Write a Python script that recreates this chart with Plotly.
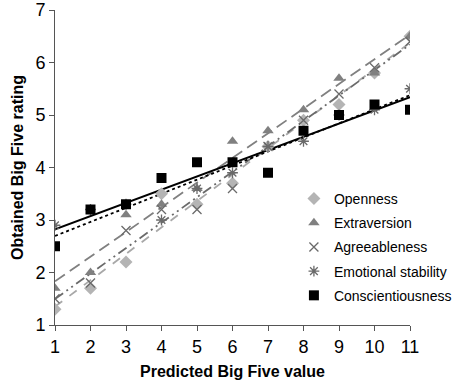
import numpy as np
import plotly.graph_objects as go

x_vals = [1, 2, 3, 4, 5, 6, 7, 8, 9, 10, 11]
openness = [1.3, 1.7, 2.2, 3.5, 3.3, 3.7, 4.4, 4.9, 5.2, 5.8, 6.5]
extraversion = [1.7, 2.0, 3.1, 3.3, 3.6, 4.5, 4.7, 5.1, 5.7, 5.8, 6.5]
agreeableness = [1.5, 1.8, 2.8, 3.2, 3.2, 3.6, 4.4, 4.9, 5.4, 5.9, 6.4]
emotional = [2.9, 3.2, 3.3, 3.0, 3.6, 3.9, 4.4, 4.5, 5.0, 5.1, 5.5]
conscientious = [2.5, 3.2, 3.3, 3.8, 4.1, 4.1, 3.9, 4.7, 5.0, 5.2, 5.1]

series = [
    ("Openness", openness, dict(symbol="diamond", color="#b4b4b4", size=10), dict(color="#a8a8a8", dash="dash", width=1.8)),
    ("Extraversion", extraversion, dict(symbol="triangle-up", color="#808080", size=10), dict(color="#808080", dash="12px,6px", width=1.8)),
    ("Agreeableness", agreeableness, dict(symbol="x-thin-open", color="#6a6a6a", size=9, line=dict(width=1.3, color="#6a6a6a")), dict(color="#6a6a6a", dash="10px,4px,2px,4px,2px,4px", width=1.8)),
    ("Emotional stability", emotional, dict(symbol="asterisk-open", color="#6a6a6a", size=9, line=dict(width=1.3, color="#6a6a6a")), dict(color="#000000", dash="dot", width=1.8)),
    ("Conscientiousness", conscientious, dict(symbol="square", color="#000000", size=10), dict(color="#000000", width=2)),
]

fig = go.Figure()
xa = np.array(x_vals, dtype=float)
for name, ys, mk, ln in series:
    m, b = np.polyfit(xa, np.array(ys), 1)
    xl = np.array([xa.min(), xa.max()])
    fig.add_trace(go.Scatter(x=xl, y=m * xl + b, mode="lines", line=ln,
                             showlegend=False, hoverinfo="skip"))
for name, ys, mk, ln in series:
    fig.add_trace(go.Scatter(x=x_vals, y=ys, mode="markers", name=name, marker=mk,
                             legendgroup=name))

font = "Liberation Sans, Arial, sans-serif"
fig.update_layout(
    width=454, height=390,
    margin=dict(l=55, r=44, t=10, b=65, autoexpand=False),
    paper_bgcolor="white", plot_bgcolor="white",
    font=dict(family=font, size=18, color="#000"),
    legend=dict(x=0.673, y=0.451, xanchor="left", yanchor="top",
                font=dict(size=14, family=font), itemwidth=30,
                tracegroupgap=3, bgcolor="rgba(0,0,0,0)"),
    xaxis=dict(range=[1, 11], tickvals=x_vals, showgrid=False, zeroline=False,
               showline=True, linecolor="#555", linewidth=1, ticks="outside",
               ticklen=5, tickcolor="#555", automargin=False,
               title=dict(text="<b>Predicted Big Five value</b>", font=dict(size=16), standoff=10)),
    yaxis=dict(range=[1, 7], dtick=1, showgrid=False, zeroline=False,
               showline=True, linecolor="#555", linewidth=1, ticks="outside",
               ticklen=5, tickcolor="#555", automargin=False,
               title=dict(text="<b>Obtained Big Five rating</b>", font=dict(size=16), standoff=7)),
)
fig.write_html("out.html", config={"displayModeBar": False},
               post_script="document.body.style.margin='0';")
